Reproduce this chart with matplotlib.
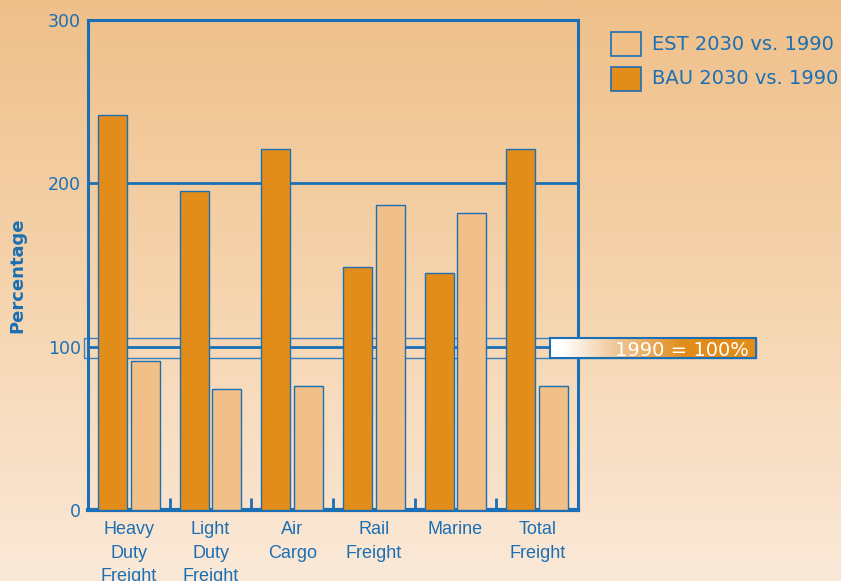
import matplotlib.pyplot as plt
import matplotlib.colors as mcolors
from matplotlib.patches import Rectangle
import numpy as np

# ---- data ----
categories = ['Heavy\nDuty\nFreight', 'Light\nDuty\nFreight', 'Air\nCargo',
              'Rail\nFreight', 'Marine', 'Total\nFreight']
bau_2030 = [242, 195, 221, 149, 145, 221]
est_2030 = [91, 74, 76, 187, 182, 76]
legend_labels = ['EST 2030 vs. 1990', 'BAU 2030 vs. 1990']
baseline_label = '1990 = 100%'
yticks = [0, 100, 200, 300]

# ---- style ----
W, H = 841, 581
BLUE = '#1b6fb5'
BAU_COL = '#e28c1a'
EST_COL = '#f0c088'
plt.rcParams['font.family'] = ['DejaVu Sans']


def px(x, y, w, h):
    """pixel box (top-left origin) -> figure fraction rect"""
    return [x / W, 1 - (y + h) / H, w / W, h / H]


fig = plt.figure(figsize=(W / 100, H / 100), dpi=100)

# background gradient
bg = fig.add_axes([0, 0, 1, 1], zorder=-10)
cmap_bg = mcolors.LinearSegmentedColormap.from_list(
    'bg', ['#efc08a', '#f5d4ae', '#fbe9d8'])
bg.imshow(np.linspace(0, 1, 256)[:, None], aspect='auto', cmap=cmap_bg,
          extent=[0, 1, 0, 1])
bg.axis('off')

ax = fig.add_axes(px(88, 20, 490, 490))
ax.set_facecolor('none')

x = np.arange(len(categories))
bw = 0.355
ax.bar(x - 0.2, bau_2030, bw, color=BAU_COL, edgecolor=BLUE, linewidth=1, zorder=3)
ax.bar(x + 0.2, est_2030, bw, color=EST_COL, edgecolor=BLUE, linewidth=1, zorder=3)

ax.set_xlim(-0.5, len(categories) - 0.5)
ax.set_ylim(0, 300)

# gridline at 200 and the 1990 reference line
ax.axhline(200, color=BLUE, linewidth=2, zorder=1)
ax.axhline(100, xmin=0, xmax=(550 - 88) / 490, color=BLUE, linewidth=2, zorder=1)

# thin band around the 100% line, behind the bars
ax.add_patch(Rectangle((84 / W, 1 - 358 / H), (756 - 84) / W, 20 / H,
                       transform=fig.transFigure, fill=False, clip_on=False,
                       edgecolor='#3a7fc0', linewidth=1, zorder=1))

for side in ['left', 'right', 'top']:
    ax.spines[side].set_color(BLUE)
    ax.spines[side].set_linewidth(2.2)
ax.spines['bottom'].set_color(BLUE)
ax.spines['bottom'].set_linewidth(3)

ax.set_yticks(yticks)
ax.set_yticklabels([str(v) for v in yticks], color=BLUE, fontsize=12.5)
ax.tick_params(axis='y', length=0, pad=5)

ax.set_xticks(x)
ax.set_xticklabels(categories, color=BLUE, fontsize=13, linespacing=1.5,
                   family='Liberation Sans')
ax.tick_params(axis='x', which='major', length=0, pad=8)
ax.set_xticks(np.arange(0.5, len(categories) - 0.5, 1), minor=True)
ax.tick_params(axis='x', which='minor', direction='in', length=9, width=2,
               color=BLUE)

ax.set_ylabel('Percentage', color=BLUE, fontsize=13, fontweight='bold')
ax.yaxis.set_label_coords((26 - 88) / 490, 0.48)

# gradient label box
lab = fig.add_axes(px(550, 338, 206, 20), zorder=6)
cmap_lab = mcolors.LinearSegmentedColormap.from_list(
    'lab', [(0, '#ffffff'), (0.06, '#ffffff'), (0.35, '#eec08c'),
            (0.65, '#e28c1a'), (1, '#e28c1a')])
lab.imshow(np.linspace(0, 1, 256)[None, :], aspect='auto', cmap=cmap_lab,
           extent=[0, 1, 0, 1])
lab.set_xticks([])
lab.set_yticks([])
for s in lab.spines.values():
    s.set_color(BLUE)
    s.set_linewidth(1.5)
lab.text(0.965, 0.5, baseline_label, color='white', fontsize=14,
         ha='right', va='center_baseline', transform=lab.transAxes)

# legend
leg_y = [44, 79]
for yy, lbl, col in zip(leg_y, legend_labels, [EST_COL, BAU_COL]):
    fig.add_artist(Rectangle((611 / W, 1 - (yy + 12) / H), 30 / W, 24 / H,
                             transform=fig.transFigure, facecolor=col,
                             edgecolor=BLUE, linewidth=1.2))
    fig.text(652 / W, 1 - yy / H, lbl, color=BLUE, fontsize=14, va='center')

fig.savefig('out.png', dpi=100)
